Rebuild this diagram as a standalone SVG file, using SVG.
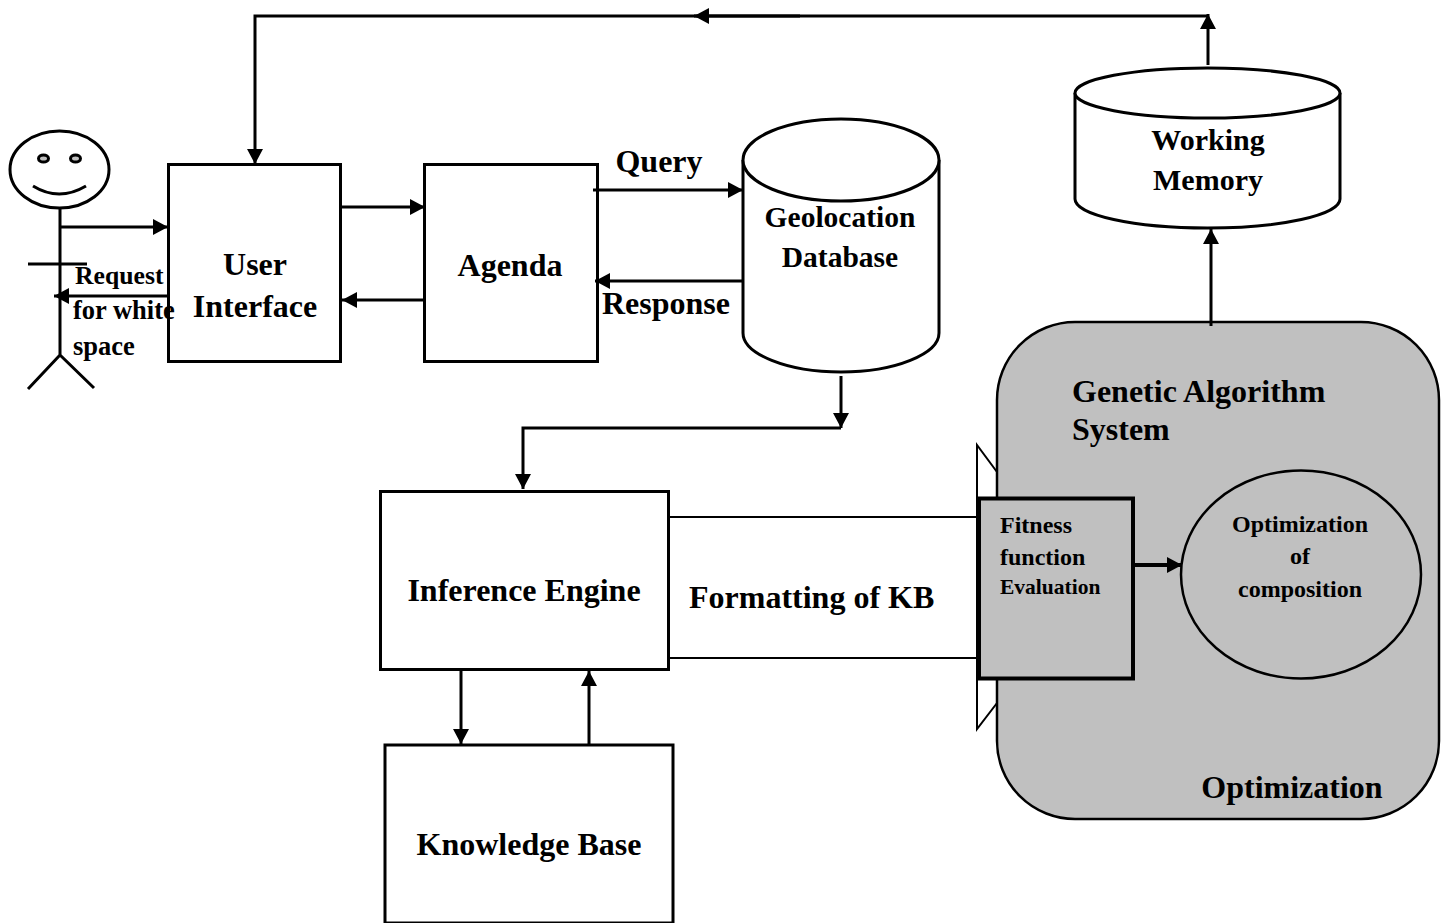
<svg xmlns="http://www.w3.org/2000/svg" width="1449" height="923" viewBox="0 0 1449 923">
<style>
text{font-family:"Liberation Serif","Times New Roman",serif;font-weight:bold;fill:#000;text-anchor:middle}
.s{fill:none;stroke:#000;stroke-width:3}
.b{fill:#fff;stroke:#000;stroke-width:3}
.c{fill:none;stroke:#000;stroke-width:3}
.t{font-size:32px}.m{font-size:30px}.g{font-size:29.500px}.r{font-size:26.500px}.f{font-size:24px}.l{text-anchor:start}
</style>
<defs>
<marker id="a" markerUnits="userSpaceOnUse" markerWidth="16" markerHeight="16" refX="15" refY="8" orient="auto"><path d="M0 0L15 8L0 16Z" fill="#000"/></marker>
</defs>
<rect width="1449" height="923" fill="#fff"/>
<g id="person">
<ellipse cx="59.500" cy="169.500" rx="49.500" ry="38.500" class="s"/>
<ellipse cx="43.500" cy="158.500" rx="5" ry="3.500" fill="#c0c0c0" stroke="#000" stroke-width="3"/>
<ellipse cx="75.500" cy="158.500" rx="5" ry="3.500" fill="#c0c0c0" stroke="#000" stroke-width="3"/>
<path d="M33 186Q59 202 86 186" class="s"/>
<path d="M60 208V355M28 264H87M60 355L28 389M60 355L94 388" class="s"/>
</g>
<g id="gas-back">
<path d="M977 445V729L997 703V472Z" fill="#fff" stroke="#000" stroke-width="2"/>
<rect x="997" y="322" width="442" height="497" rx="78" ry="78" fill="#c0c0c0" stroke="#000" stroke-width="2.500"/>
<text class="t l" x="1072" y="402">Genetic Algorithm</text>
<text class="t l" x="1072" y="440">System</text>
<text class="t" x="1292" y="798">Optimization</text>
</g>
<g id="user-interface"><rect x="168.500" y="164.500" width="172" height="197" class="b"/>
<text class="t" x="255" y="275">User</text><text class="t" x="255" y="317">Interface</text></g>
<g id="request-label"><text class="l" font-size="25.700" x="75" y="284">Request</text><text class="r l" x="73" y="319">for white</text><text class="r l" x="73" y="355">space</text></g>
<g id="agenda"><rect x="424.500" y="164.500" width="173" height="197" class="b"/><text class="t" x="510" y="276">Agenda</text></g>
<g id="geolocation-database">
<path d="M743 160V333C743 354 787 372 841 372S939 354 939 333V160" class="b"/>
<ellipse cx="841" cy="160" rx="98" ry="41" class="b"/>
<text class="g" x="840" y="227">Geolocation</text><text class="g" x="840" y="267">Database</text></g>
<g id="working-memory">
<path d="M1075 93V199C1075 215 1134 228 1207.500 228S1340 215 1340 199V93" class="b"/>
<ellipse cx="1207.500" cy="93" rx="132.500" ry="25" class="b"/>
<text class="m" x="1208" y="150">Working</text><text class="m" x="1208" y="190">Memory</text></g>
<g id="inference-engine"><rect x="380.500" y="491.500" width="288" height="178" class="b"/><text class="t" x="524" y="601">Inference Engine</text></g>
<g id="knowledge-base"><rect x="385" y="745" width="288" height="178" class="b"/><text class="t" x="529" y="855">Knowledge Base</text></g>
<g id="fitness"><rect x="979" y="498.500" width="154" height="180" fill="#c0c0c0" stroke="#000" stroke-width="4"/>
<text class="f l" x="1000" y="533">Fitness</text><text class="f l" x="1000" y="565">function</text><text class="l" font-size="21.500" x="1000" y="594">Evaluation</text></g>
<g id="optimization-of-composition"><ellipse cx="1301" cy="574.500" rx="120" ry="104" fill="#c0c0c0" stroke="#000" stroke-width="2.500"/>
<text font-size="24" x="1300" y="532">Optimization</text><text font-size="24" x="1300" y="564">of</text><text font-size="24" x="1300" y="597">composition</text></g>
<g id="labels"><text class="t" x="659" y="172">Query</text><text class="t" x="666" y="314">Response</text><text class="t l" x="689" y="608">Formatting of KB</text></g>
<g id="connectors">
<path d="M60 227H168" class="c" marker-end="url(#a)"/>
<path d="M168 296H54" class="c" marker-end="url(#a)"/>
<path d="M341 207H425" class="c" marker-end="url(#a)"/>
<path d="M424 300H342" class="c" marker-end="url(#a)"/>
<path d="M593 190H743" class="c" marker-end="url(#a)"/>
<path d="M743 281H595" class="c" marker-end="url(#a)"/>
<path d="M841 376V428" class="c" marker-end="url(#a)"/>
<path d="M841 428H523V489" class="c" marker-end="url(#a)"/>
<path d="M461 670V744" class="c" marker-end="url(#a)"/>
<path d="M589 745V671" class="c" marker-end="url(#a)"/>
<path d="M669 517H978M669 658H978" fill="none" stroke="#000" stroke-width="2"/>
<path d="M1134 565H1182" fill="none" stroke="#000" stroke-width="4" marker-end="url(#a)"/>
<path d="M1211 326V229" class="c" marker-end="url(#a)"/>
<path d="M1208 65V14" class="c" marker-end="url(#a)"/>
<path d="M1208 16H694" class="c" marker-end="url(#a)"/>
<path d="M800 16H255V164" class="c" marker-end="url(#a)"/>
</g>
</svg>
